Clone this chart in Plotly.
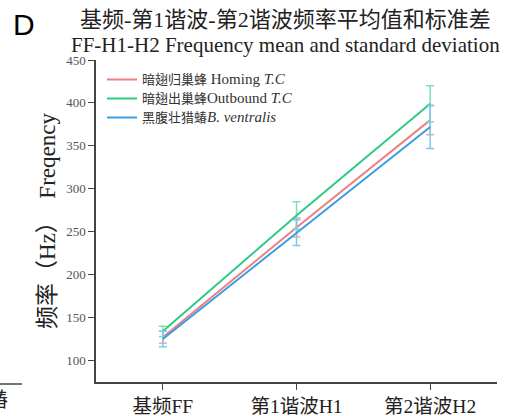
import plotly.graph_objects as go

categories = ["基频FF", "第1谐波H1", "第2谐波H2"]
homing_mean = [127, 255, 380]
homing_sd = [7, 11, 17]
outbound_mean = [134, 269, 399]
outbound_sd = [6, 16, 21]
bv_mean = [125, 249, 372]
bv_sd = [9, 15, 25]
y_ticks = [100, 150, 200, 250, 300, 350, 400, 450]

W, H = 510, 416
ML, MR, MT, MB = 96, 13, 60, 34
PW, PH = W - ML - MR, H - MT - MB


def px(x):
    return (x - ML) / PW


def py(y):
    return (H - MB - y) / PH


def sz(s, size):
    return f'<span style="font-size:{size}px">{s}</span>'


series = [
    (sz("暗翅归巢蜂", 13) + sz(" Homing <i>T.C</i>", 15), homing_mean, homing_sd, "#f07f7f", "#f4a5a5"),
    (sz("暗翅出巢蜂", 13) + sz("Outbound <i>T.C</i>", 15), outbound_mean, outbound_sd, "#2fcb86", "#7fe0b8"),
    (sz("黑腹壮猎蝽", 13) + sz("<i>B. ventralis</i>", 15), bv_mean, bv_sd, "#3a9de3", "#7cc8ee"),
]

fig = go.Figure()
for name, m, sd, col, ecol in series:
    fig.add_trace(go.Scatter(
        x=categories, y=m, name=name, mode="lines",
        line=dict(color=col, width=2),
        error_y=dict(type="data", array=sd, visible=True, color=ecol, thickness=1.5, width=4),
    ))

serif = "Liberation Serif, Noto Sans CJK SC, serif"

fig.update_layout(
    width=W, height=H,
    margin=dict(l=ML, r=MR, t=MT, b=MB, autoexpand=False),
    paper_bgcolor="white", plot_bgcolor="white",
    font=dict(family=serif, color="#222"),
    showlegend=True,
    legend=dict(x=px(102), y=py(65), xanchor="left", yanchor="top",
                font=dict(family=serif, size=12, color="#333"),
                bgcolor="rgba(0,0,0,0)", tracegroupgap=0, itemwidth=30),
    xaxis=dict(type="category", range=[-0.5, 2.5], showline=True, linecolor="#444", linewidth=1.5,
               ticks="outside", ticklen=6, tickcolor="#444", showgrid=False, automargin=False,
               tickfont=dict(family=serif, size=19.5, color="#222")),
    yaxis=dict(range=[75, 450], tickvals=y_ticks, showline=True, linecolor="#444", linewidth=1.5,
               ticks="outside", ticklen=6, tickcolor="#444", showgrid=False, zeroline=False,
               automargin=False,
               tickfont=dict(family=serif, size=13, color="#555"),
               title=dict(text="频率（Hz）  Freqency", font=dict(family=serif, size=23, color="#222"),
                          standoff=4)),
    annotations=[
        dict(text="基频-第1谐波-第2谐波频率平均值和标准差", x=px(285), y=py(19), xref="paper", yref="paper",
             showarrow=False, xanchor="center", yanchor="middle",
             font=dict(family=serif, size=22, color="#222")),
        dict(text="FF-H1-H2 Frequency mean and standard deviation", x=px(285), y=py(45),
             xref="paper", yref="paper", showarrow=False, xanchor="center", yanchor="middle",
             font=dict(family=serif, size=21, color="#222")),
        dict(text="D", x=px(11), y=py(24), xref="paper", yref="paper", showarrow=False,
             xanchor="left", yanchor="middle",
             font=dict(family="Liberation Sans, Arial", size=30, color="#000")),
        dict(text="蝽", x=px(10), y=py(400), xref="paper", yref="paper", showarrow=False,
             xanchor="right", yanchor="middle",
             font=dict(family=serif, size=20, color="#222")),
    ],
    shapes=[dict(type="line", xref="paper", yref="paper",
                 x0=px(-2), x1=px(22), y0=py(384), y1=py(384),
                 line=dict(color="#444", width=1.5))],
)
fig.write_html("out.html", config={"displayModeBar": False},
               post_script="document.body.style.margin='0';")
